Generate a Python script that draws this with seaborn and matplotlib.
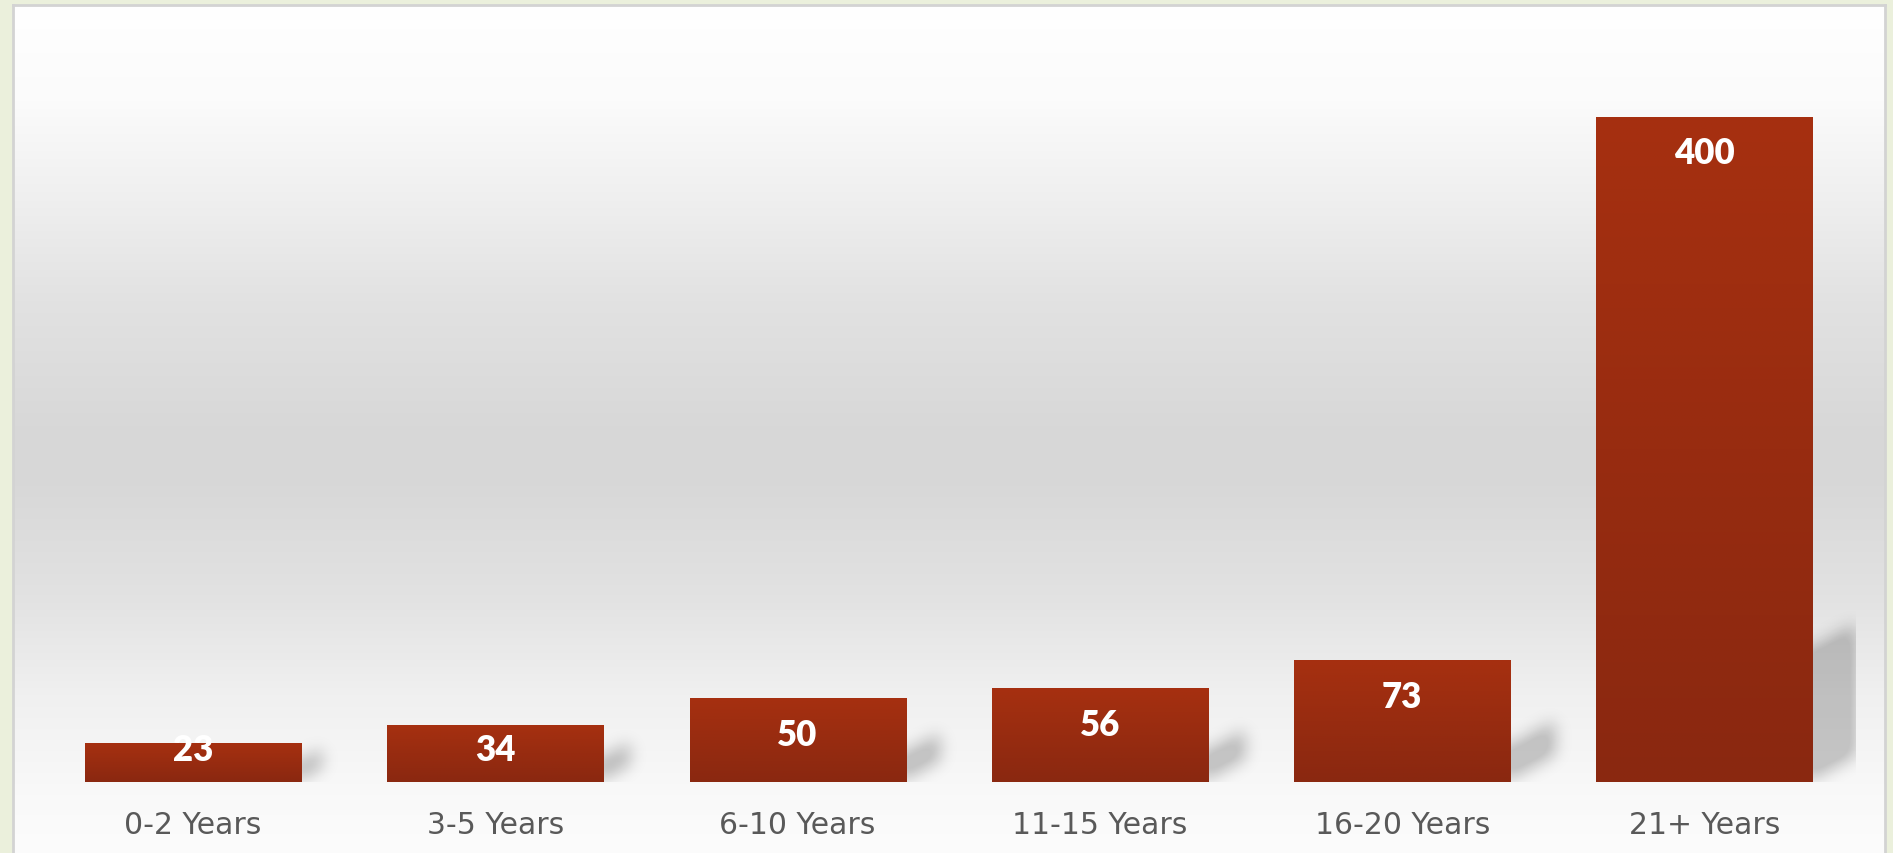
import matplotlib
matplotlib.use('Agg')
import matplotlib.pyplot as plt
import numpy
import pandas
import seaborn

# Chart data
categories = ['0-2 Years', '3-5 Years', '6-10 Years', '11-15 Years', '16-20 Years', '21+ Years']
counts = [23, 34, 50, 56, 73, 400]

seaborn.set_style('white')
plt.rcParams['font.family'] = ['DejaVu Sans']

data = pandas.DataFrame({'Tenure': categories, 'Count': counts})

fig = plt.figure(figsize = (18.93, 8.54), dpi = 100)
fig.patch.set_facecolor('#EBF0DC')

# Panel with vertical grey gradient
bg = fig.add_axes([13 / 1893, 0, 1872 / 1893, 848 / 854])
stops_y = [0, 95, 195, 295, 420, 470, 590, 690, 790, 848]
stops_v = [255, 251, 239, 226, 216, 215, 226, 240, 249, 252]
grad = numpy.interp(numpy.arange(848), stops_y, stops_v) / 255.0
grad_img = numpy.repeat(grad[:, None], 3, axis = 1)[:, None, :]
bg.imshow(grad_img, aspect = 'auto', extent = (0, 1, 0, 1), origin = 'upper')
bg.set_xlim(0, 1)
bg.set_ylim(0, 1)
bg.set_xticks([])
bg.set_yticks([])
for side in ['left', 'top', 'right']:
    bg.spines[side].set_color('#D3D3D3')
    bg.spines[side].set_linewidth(2)
bg.spines['bottom'].set_visible(False)

# Main chart axes
ax = fig.add_axes([41.85 / 1893, 71 / 854, 1813.8 / 1893, 698.25 / 854])
ax.set_facecolor('none')
seaborn.barplot(data = data, x = 'Tenure', y = 'Count', color = '#8B2810',
                width = 0.715, saturation = 1, zorder = 3, linewidth = 0,
                edgecolor = 'none', ax = ax)
ax.set_xlim(-0.5, 5.5)
ax.set_ylim(0, 420)
ax.set_xlabel('')
ax.set_ylabel('')
ax.set_yticks([])
for s in ax.spines.values():
    s.set_visible(False)
ax.tick_params(axis = 'x', length = 0, pad = 20, labelsize = 21.5, labelcolor = '#595959')

# Bar gradients (lighter at top, darker at bottom)
top_rgb = numpy.array([0xA6, 0x30, 0x10]) / 255.0
bot_rgb = numpy.array([0x8A, 0x28, 0x10]) / 255.0
ramp = numpy.linspace(0, 1, 256)[:, None]
bar_img = (top_rgb[None, :] * (1 - ramp) + bot_rgb[None, :] * ramp)[:, None, :]
for p in ax.patches:
    x0 = p.get_x()
    x1 = x0 + p.get_width()
    h = p.get_height()
    ax.imshow(bar_img, extent = (x0, x1, 0, h), aspect = 'auto', origin = 'upper',
              interpolation = 'bilinear', zorder = 4)

# Soft perspective shadows to the right of the bars
bb = ax.bbox
w_px = int(round(bb.width))
h_px = int(round(bb.height))
rows = numpy.arange(h_px)[:, None]
cols = numpy.arange(w_px)[None, :]
mask = numpy.zeros((h_px, w_px))
for p in ax.patches:
    x1 = p.get_x() + p.get_width()
    h = p.get_height()
    right, base = ax.transData.transform((x1, 0))
    _, top = ax.transData.transform((x1, h))
    right = right - bb.x0
    bottom = bb.y1 - base
    bar_h = top - base
    sw = min(44, 10 + 0.28 * bar_h)
    sh = 0.18 * bar_h + 12
    skew = 0.55 * sw
    t = numpy.clip((cols - right) / sw, 0, 1)
    inside = (cols >= right - 10) & (cols <= right + sw) & \
             (rows <= bottom - 4 - skew * t) & (rows >= bottom - 4 - sh - skew * t)
    mask[inside] = 1.0

k_x = numpy.arange(-24, 25)
kernel = numpy.exp(-k_x ** 2 / (2 * 8.0 ** 2))
kernel = kernel / kernel.sum()
blur = numpy.apply_along_axis(lambda r: numpy.convolve(r, kernel, mode = 'same'), 1, mask)
blur = numpy.apply_along_axis(lambda c: numpy.convolve(c, kernel, mode = 'same'), 0, blur)
shadow = numpy.zeros((h_px, w_px, 4))
shadow[:, :, 3] = numpy.clip(blur * 0.26, 0, 0.2)
ax.imshow(shadow, extent = (-0.5, 5.5, 0, 420), aspect = 'auto', origin = 'upper',
          interpolation = 'nearest', zorder = 2)
ax.set_xlim(-0.5, 5.5)
ax.set_ylim(0, 420)

# Value labels inside the bars
for i, v in enumerate(counts):
    ax.text(i, max(v - 21.5, 19.3), str(v), ha = 'center', va = 'center', color = 'white',
            fontsize = 25, fontweight = 'heavy', family = ['Lato', 'DejaVu Sans'], zorder = 6)

plt.savefig('out.png', dpi = 100, facecolor = fig.get_facecolor())
